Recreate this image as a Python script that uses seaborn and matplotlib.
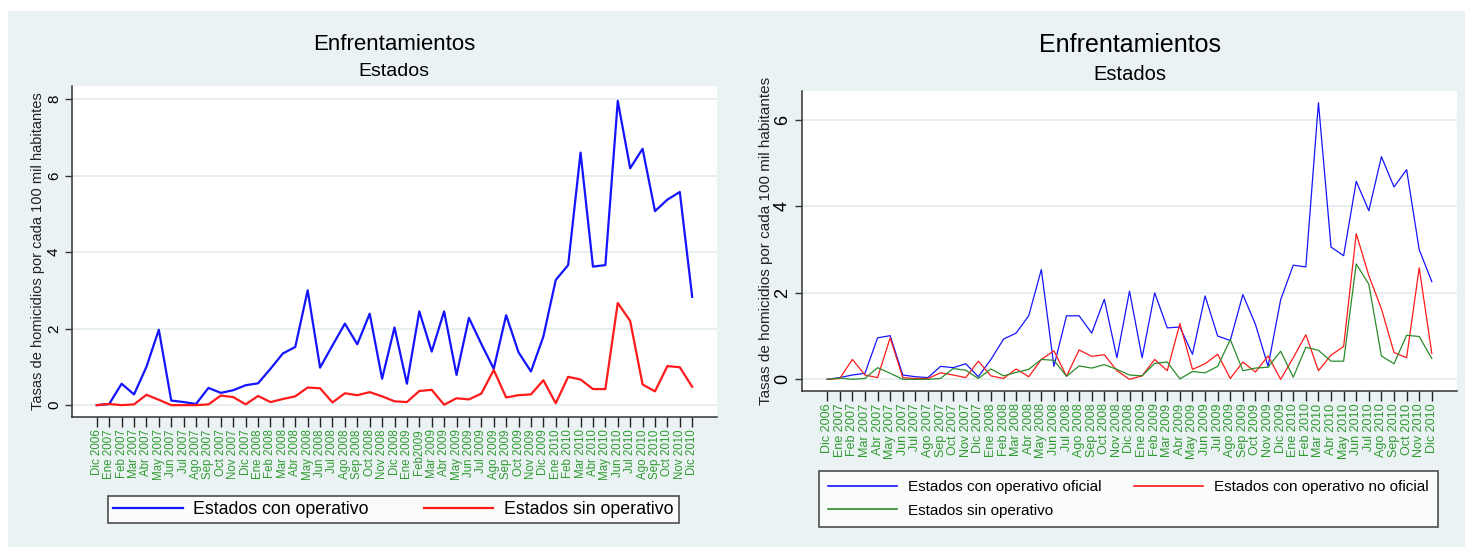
import numpy as np
import pandas as pd
import matplotlib
matplotlib.use("Agg")
import matplotlib.pyplot as plt
from matplotlib.patches import Rectangle
import seaborn as sns

# Monthly periods, Dec 2006 - Dec 2010
meses_izq = ["Dic 2006", "Ene 2007", "Feb 2007", "Mar 2007", "Abr 2007", "May 2007", "Jun 2007",
             "Jul 2007", "Ago 2007", "Sep 2007", "Oct 2007", "Nov 2007", "Dic 2007", "Ene 2008",
             "Feb 2008", "Mar 2008", "Abr 2008", "May 2008", "Jun 2008", "Jul 2008", "Ago 2008",
             "Sep 2008", "Oct 2008", "Nov 2008", "Dic 2008", "Ene 2009", "Feb2009", "Mar 2009",
             "Abr 2009", "May 2009", "Jun 2009", "Jul 2009", "Ago 2009", "Sep 2009", "Oct 2009",
             "Nov 2009", "Dic 2009", "Ene 2010", "Feb 2010", "Mar 2010", "Abr 2010", "May 2010",
             "Jun 2010", "Jul 2010", "Ago 2010", "Sep 2010", "Oct 2010", "Nov 2010", "Dic 2010"]
meses_der = [m.replace("Feb2009", "Feb 2009") for m in meses_izq]

# Homicide rates per 100k inhabitants (clashes)
con_operativo = [0.0, 0.03, 0.56, 0.28, 1.0, 1.97, 0.12, 0.08, 0.03, 0.45, 0.32, 0.39, 0.52, 0.57,
                 0.95, 1.35, 1.52, 3.0, 0.98, 1.56, 2.13, 1.59, 2.39, 0.69, 2.03, 0.56, 2.45, 1.4,
                 2.45, 0.79, 2.28, 1.6, 0.95, 2.35, 1.38, 0.88, 1.79, 3.27, 3.66, 6.6, 3.62, 3.66,
                 7.95, 6.19, 6.7, 5.07, 5.37, 5.57, 2.83]
sin_operativo = [0.0, 0.03, 0.0, 0.02, 0.27, 0.14, 0.0, 0.0, 0.0, 0.02, 0.25, 0.21, 0.02, 0.24,
                 0.08, 0.16, 0.23, 0.46, 0.44, 0.07, 0.31, 0.26, 0.34, 0.23, 0.1, 0.08, 0.37, 0.4,
                 0.01, 0.18, 0.15, 0.3, 0.92, 0.2, 0.26, 0.28, 0.65, 0.05, 0.74, 0.67, 0.42, 0.42,
                 2.67, 2.2, 0.54, 0.36, 1.02, 0.99, 0.48]
operativo_oficial = [0.0, 0.04, 0.1, 0.14, 0.96, 1.01, 0.1, 0.06, 0.04, 0.3, 0.27, 0.36, 0.06, 0.46,
                     0.93, 1.07, 1.47, 2.54, 0.3, 1.47, 1.47, 1.07, 1.85, 0.5, 2.04, 0.5, 2.0, 1.19,
                     1.21, 0.58, 1.93, 1.0, 0.9, 1.96, 1.27, 0.3, 1.84, 2.64, 2.6, 6.4, 3.06, 2.86,
                     4.58, 3.9, 5.15, 4.45, 4.85, 3.0, 2.26]
operativo_no_oficial = [0.0, 0.02, 0.46, 0.1, 0.04, 0.96, 0.04, 0.02, 0.02, 0.15, 0.1, 0.04, 0.42,
                        0.08, 0.02, 0.24, 0.06, 0.46, 0.66, 0.07, 0.68, 0.53, 0.57, 0.2, 0.0, 0.08,
                        0.46, 0.2, 1.29, 0.23, 0.36, 0.58, 0.02, 0.4, 0.17, 0.54, 0.0, 0.5, 1.03,
                        0.2, 0.56, 0.76, 3.37, 2.4, 1.63, 0.62, 0.5, 2.58, 0.6]

titulo = "Enfrentamientos"
subtitulo = "Estados"
etiqueta_y = "Tasas de homicidios por cada 100 mil habitantes"

BG = "#eaf2f3"
GRID = "#e6eef0"
AZUL = "#1414ff"
ROJO = "#ff1a1a"
VERDE = "#2a8c2a"
TICK_VERDE = "#2f9a2f"

plt.rcParams["font.family"] = ["Liberation Sans", "DejaVu Sans"]

fig = plt.figure(figsize=(14.65, 5.47), dpi=100, facecolor="white")
fig.patches.append(Rectangle((8 / 1465, 0), 1 - 8 / 1465, (547 - 11) / 547,
                             transform=fig.transFigure, facecolor=BG, edgecolor="none", zorder=-10))

ax1 = fig.add_axes([72 / 1465, 130 / 547, 645 / 1465, 331 / 547])
ax2 = fig.add_axes([802 / 1465, 156 / 547, 655 / 1465, 300 / 547])

x = np.arange(len(meses_izq))

df_izq = pd.DataFrame({
    "mes": np.concatenate([x, x]),
    "tasa": con_operativo + sin_operativo,
    "serie": ["Estados con operativo"] * len(x) + ["Estados sin operativo"] * len(x),
})
df_der = pd.DataFrame({
    "mes": np.concatenate([x, x, x]),
    "tasa": operativo_oficial + operativo_no_oficial + sin_operativo,
    "serie": (["Estados con operativo oficial"] * len(x) + ["Estados con operativo no oficial"] * len(x)
              + ["Estados sin operativo"] * len(x)),
})

sns.lineplot(data=df_izq, x="mes", y="tasa", hue="serie",
             hue_order=["Estados con operativo", "Estados sin operativo"],
             palette=[AZUL, ROJO], linewidth=1.6, ax=ax1, legend=False)
sns.lineplot(data=df_der, x="mes", y="tasa", hue="serie",
             hue_order=["Estados con operativo oficial", "Estados con operativo no oficial",
                        "Estados sin operativo"],
             palette=[AZUL, ROJO, VERDE], linewidth=0.9, ax=ax2, legend=False)


def estilo(ax, meses, ylim, yticks, xfs, yfs, ylfs):
    ax.set_facecolor("white")
    ax.set_xlim(-2, 50)
    ax.set_ylim(*ylim)
    ax.set_yticks(yticks)
    ax.set_yticklabels([str(t) for t in yticks], rotation=90, va="center", fontsize=yfs)
    ax.set_xticks(x)
    ax.set_xticklabels(meses, rotation=90, fontsize=xfs, color=TICK_VERDE)
    ax.grid(axis="y", color=GRID, linewidth=1.4)
    ax.grid(axis="x", visible=False)
    ax.set_axisbelow(True)
    for s in ["top", "right"]:
        ax.spines[s].set_visible(False)
    for s in ["left", "bottom"]:
        ax.spines[s].set_color("#333333")
        ax.spines[s].set_linewidth(1.1)
    ax.tick_params(axis="y", direction="out", length=5, width=1, color="#333333", pad=3)
    ax.tick_params(axis="x", direction="out", length=7, width=1, color="#222222", pad=2)
    ax.set_xlabel("")
    ax.set_ylabel(etiqueta_y, fontsize=ylfs, color="#222222")


estilo(ax1, meses_izq, (-0.31, 8.34), [0, 2, 4, 6, 8], 8.3, 11, 10.5)
estilo(ax2, meses_der, (-0.27, 6.67), [0, 2, 4, 6], 9.0, 13, 11)
ax1.yaxis.set_label_coords(-0.042, 0.5)
ax2.yaxis.set_label_coords(-0.045, 0.5)

fig.text(394 / 1465, 1 - 44 / 547, titulo, ha="center", va="center", fontsize=16)
fig.text(394 / 1465, 1 - 72 / 547, subtitulo, ha="center", va="center", fontsize=14)
fig.text(1130 / 1465, 1 - 45 / 547, titulo, ha="center", va="center", fontsize=18)
fig.text(1130 / 1465, 1 - 75 / 547, subtitulo, ha="center", va="center", fontsize=14.5)

leg1 = ax1.legend(ax1.lines, ["Estados con operativo", "Estados sin operativo"],
                  loc="center", bbox_to_anchor=(108 / 1465, 20 / 547, 571 / 1465, 35 / 547),
                  bbox_transform=fig.transFigure, ncol=2, mode="expand", fontsize=12.8,
                  frameon=True, fancybox=False, edgecolor="#222222", handlelength=3.9,
                  columnspacing=2.0, borderpad=0.3, handletextpad=0.6, borderaxespad=0)
leg1.get_frame().set_linewidth(1.2)
for h in leg1.get_lines():
    h.set_linewidth(1.6)

leg2 = ax2.legend([ax2.lines[0], ax2.lines[2], ax2.lines[1]],
                  ["Estados con operativo oficial", "Estados sin operativo",
                   "Estados con operativo no oficial"],
                  loc="lower left", bbox_to_anchor=(819 / 1465, 20 / 547),
                  bbox_transform=fig.transFigure, ncol=2, fontsize=11,
                  frameon=True, fancybox=False, edgecolor="#222222", handlelength=4.5,
                  columnspacing=2.1, borderpad=0.6, handletextpad=0.75, labelspacing=0.65,
                  borderaxespad=0)
leg2.get_frame().set_linewidth(1.2)
for h in leg2.get_lines():
    h.set_linewidth(1.2)

fig.savefig("out.png", dpi=100, facecolor="white")
